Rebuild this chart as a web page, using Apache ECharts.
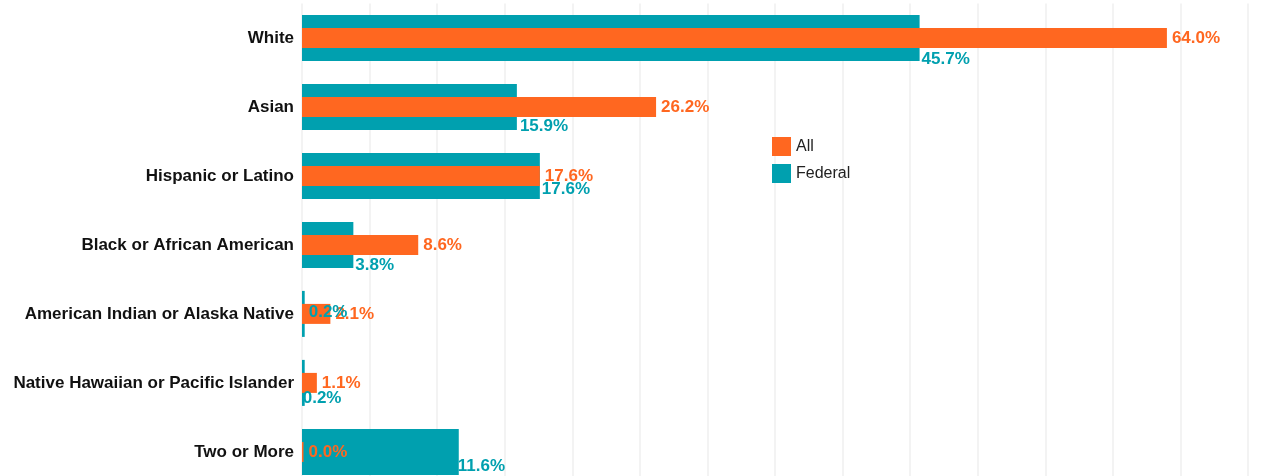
<!DOCTYPE html>
<html>
<head>
<meta charset="utf-8">
<script src="https://cdn.jsdelivr.net/npm/echarts@6/dist/echarts.min.js"></script>
<style>
html,body{margin:0;padding:0;background:#fff;overflow:hidden;}
#chart{width:1270px;height:500px;}
</style>
</head>
<body>
<div id="chart"></div>
<script>
// ---- data ----
const categories = [
  'White',
  'Asian',
  'Hispanic or Latino',
  'Black or African American',
  'American Indian or Alaska Native',
  'Native Hawaiian or Pacific Islander',
  'Two or More'
];
const allValues = [64.0, 26.2, 17.6, 8.6, 2.1, 1.1, 0.0];
const federalValues = [45.7, 15.9, 17.6, 3.8, 0.2, 0.2, 11.6];
const seriesNames = ['All', 'Federal'];

// ---- style ----
const ORANGE = '#FF6720';
const TEAL = '#00A0AF';
const FONT = "'Liberation Sans', Arial, Helvetica, sans-serif";
// small per-row nudges of the Federal value labels (style only)
const tealNudge = [[2, -1.4], [3, -3.1], [2, -9.5], [2, -2.5], [4, -24.8], [-2, -8], [-1, -9]];

const fmt = v => v.toFixed(1) + '%';

const chart = echarts.init(document.getElementById('chart'), null, {renderer: 'canvas'});

const tealLabelData = federalValues.map((v, i) => ({
  value: v,
  label: {offset: tealNudge[i]}
}));

const yCommon = {
  type: 'category',
  data: categories,
  inverse: true,
  axisLine: {show: false},
  axisTick: {show: false},
  splitLine: {show: false}
};

chart.setOption({
  animation: false,
  backgroundColor: '#ffffff',
  textStyle: {fontFamily: FONT},
  grid: {left: 302, top: 3.4, width: 946, height: 483, containLabel: false},
  legend: {
    data: seriesNames,
    orient: 'vertical',
    left: 772,
    top: 137,
    padding: 0,
    itemWidth: 19,
    itemHeight: 19,
    itemGap: 8,
    icon: 'rect',
    textStyle: {fontSize: 16, color: '#222', fontFamily: FONT}
  },
  xAxis: {
    type: 'value',
    min: 0,
    max: 70,
    interval: 5,
    axisLabel: {show: false},
    axisLine: {show: false},
    axisTick: {show: false},
    splitLine: {show: true, lineStyle: {color: '#efefef', width: 1.5}}
  },
  yAxis: [
    Object.assign({}, yCommon, {
      axisLabel: {
        show: true, margin: 8, fontSize: 17, fontWeight: 'bold', color: '#111', fontFamily: FONT
      }
    }),
    Object.assign({}, yCommon, {show: false, axisLabel: {show: false}}),
    Object.assign({}, yCommon, {show: false, axisLabel: {show: false}})
  ],
  series: [
    {
      name: 'Federal',
      type: 'bar',
      yAxisIndex: 0,
      data: federalValues,
      barWidth: 46,
      itemStyle: {color: TEAL},
      z: 2,
      label: {show: false}
    },
    {
      name: 'All',
      type: 'bar',
      yAxisIndex: 1,
      data: allValues,
      barWidth: 20,
      barMinHeight: 1.5,
      itemStyle: {color: ORANGE},
      z: 3,
      label: {
        show: true,
        position: 'right',
        distance: 5,
        color: ORANGE,
        fontSize: 17,
        fontWeight: 'bold',
        fontFamily: FONT,
        formatter: p => fmt(p.value)
      }
    },
    {
      // Federal value labels, drawn above all bars
      name: 'Federal labels',
      type: 'bar',
      yAxisIndex: 2,
      data: tealLabelData,
      barWidth: 46,
      silent: true,
      itemStyle: {color: 'rgba(0,0,0,0)'},
      z: 5,
      label: {
        show: true,
        position: ['100%', '100%'],
        align: 'left',
        verticalAlign: 'middle',
        color: TEAL,
        fontSize: 17,
        fontWeight: 'bold',
        fontFamily: FONT,
        formatter: p => fmt(p.value)
      }
    }
  ]
});
</script>
</body>
</html>
